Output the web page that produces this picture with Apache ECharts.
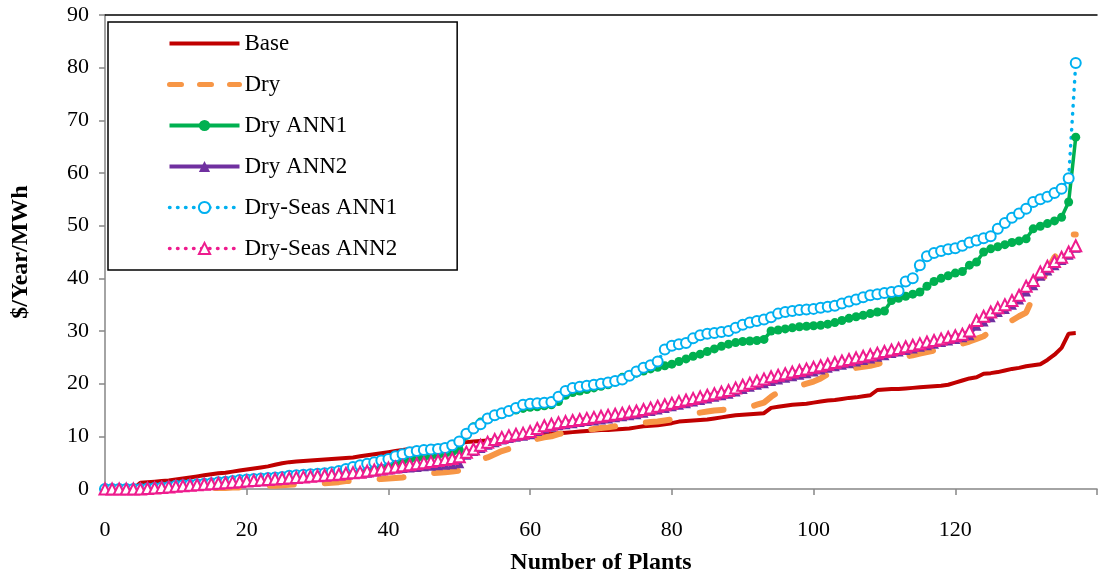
<!DOCTYPE html>
<html>
<head>
<meta charset="utf-8">
<script src="https://cdn.jsdelivr.net/npm/echarts@6/dist/echarts.min.js"></script>
<style>html,body{margin:0;padding:0;background:#fff}#c{width:1100px;height:580px}</style>
</head>
<body>
<div id="c"></div>
<script>
// x = plant index 0..137
const plantCount = 138;
const xTicks = [0, 20, 40, 60, 80, 100, 120];
const yTicks = [0, 10, 20, 30, 40, 50, 60, 70, 80, 90];
const seriesNames = ['Base', 'Dry', 'Dry ANN1', 'Dry ANN2', 'Dry-Seas ANN1', 'Dry-Seas ANN2'];

const base = [
0,0,0,0,0,1.2,
1.3,1.4,1.5,1.6,1.8,
2.0,2.2,2.4,2.6,2.8,
3.0,3.1,3.3,3.5,3.7,
3.9,4.1,4.3,4.6,4.9,
5.1,5.2,5.3,5.4,5.5,
5.6,5.7,5.8,5.9,6.0,
6.2,6.4,6.6,6.8,7.0,
7.2,7.4,7.6,7.7,7.9,
8.0,8.1,8.3,8.5,8.7,
8.9,9.0,9.1,9.2,9.3,
9.5,9.7,9.8,10.0,10.1,
10.2,10.3,10.5,10.6,10.7,
10.8,10.9,11.0,11.1,11.2,
11.2,11.3,11.4,11.5,11.7,
11.9,12.0,12.1,12.3,12.5,
12.8,12.9,13.0,13.1,13.2,
13.4,13.6,13.8,14.0,14.1,
14.2,14.3,14.4,15.4,15.6,
15.8,16.0,16.1,16.2,16.4,
16.6,16.8,16.9,17.1,17.3,
17.4,17.6,17.8,18.8,18.9,
19.0,19.0,19.1,19.2,19.3,
19.4,19.5,19.6,19.8,20.2,
20.6,21.0,21.2,21.9,22.0,
22.2,22.5,22.8,23.0,23.3,
23.5,23.7,24.5,25.5,26.8,
29.5,29.6];

const dry = [
0,0,0,0,0,0,
0,0,0,0,0,
0,0,0.1,0.1,0.2,
0.2,0.2,0.3,0.3,0.4,
0.5,0.5,0.6,0.6,0.7,
0.8,0.9,1.0,1.0,1.1,
1.1,1.2,1.3,1.5,1.6,
1.7,1.8,1.8,1.9,2.0,
2.1,2.2,2.4,2.6,2.9,
3.0,3.1,3.2,3.3,3.5,
4.3,5.2,5.6,6.0,6.6,
7.2,7.6,8.3,8.8,9.1,
9.5,9.8,10.0,10.4,10.8,
11.0,11.1,11.2,11.4,11.6,
11.7,11.9,12.1,12.3,12.5,
12.6,12.7,12.8,13.0,13.2,
13.7,14.1,14.3,14.5,14.7,
14.9,15.0,15.1,15.2,15.3,
15.6,16.0,16.4,17.5,18.4,
18.8,19.2,19.6,20.0,20.4,
21.0,21.8,22.3,22.6,22.8,
23.0,23.2,23.4,23.7,24.2,
24.5,24.8,25.1,25.4,25.7,
26.0,26.3,26.6,26.9,27.2,
27.6,28.0,28.5,29.0,30.0,
31.0,31.4,32.0,32.8,33.5,
36.5,39.0,41.5,44.0,45.5,
48.3,48.3];

const dryAnn1 = [
0,0,0,0,0,0,
0.1,0.2,0.3,0.4,0.5,
0.6,0.7,0.8,0.9,1.0,
1.1,1.2,1.3,1.4,1.5,
1.6,1.7,1.8,1.9,2.0,
2.1,2.2,2.3,2.4,2.5,
2.6,2.8,3.0,3.2,3.4,
3.6,3.8,4.0,4.3,4.6,
5.0,5.3,5.6,5.8,6.0,
6.2,6.4,6.7,7.0,7.4,
10.2,11.8,12.7,13.4,13.9,
14.3,14.7,15.0,15.3,15.5,
15.6,15.8,16.0,16.6,17.8,
18.3,18.6,18.9,19.2,19.5,
19.8,20.3,21.2,21.6,22.0,
22.4,22.8,23.1,23.4,23.7,
24.2,24.7,25.2,25.6,26.1,
26.6,27.1,27.5,27.8,28.0,
28.1,28.2,28.4,30.0,30.2,
30.4,30.6,30.8,30.9,31.0,
31.1,31.3,31.6,32.0,32.4,
32.7,33.0,33.3,33.6,33.8,
35.8,36.2,36.6,37.0,37.4,
38.5,39.4,40.0,40.5,41.0,
41.3,42.5,43.1,45.0,45.6,
46.0,46.4,46.8,47.1,47.5,
49.4,49.9,50.4,50.9,51.6,
54.5,66.8];

const dryAnn2 = [
0,0,0,0,0,0,
0.1,0.15,0.2,0.3,0.4,
0.5,0.6,0.7,0.8,0.9,
1.0,1.1,1.2,1.3,1.4,
1.5,1.6,1.7,1.8,1.9,
2.0,2.1,2.2,2.3,2.4,
2.5,2.6,2.7,2.8,2.9,
3.0,3.1,3.3,3.5,3.7,
3.9,4.0,4.1,4.2,4.3,
4.4,4.5,4.6,4.7,4.9,
6.5,7.2,7.8,8.4,8.9,
9.4,9.7,9.9,10.1,10.4,
11.0,11.5,11.8,12.1,12.3,
12.5,12.7,12.9,13.0,13.2,
13.4,13.6,13.8,14.0,14.2,
14.5,14.8,15.1,15.4,15.7,
16.0,16.3,16.6,16.9,17.2,
17.5,17.8,18.1,18.5,19.0,
19.4,19.8,20.1,20.5,20.8,
21.1,21.4,21.7,22.0,22.3,
22.7,23.0,23.3,23.6,23.9,
24.2,24.5,24.8,25.1,25.4,
25.8,26.1,26.4,26.7,27.0,
27.3,27.6,27.9,28.2,28.5,
28.8,29.2,31.0,31.8,32.6,
33.6,34.2,35.0,36.0,37.5,
38.7,40.5,41.5,42.5,43.5,
44.5,45.8];

const drySeasAnn1 = [
0,0,0,0,0,0,
0.1,0.2,0.3,0.4,0.6,
0.7,0.8,0.9,1.0,1.1,
1.3,1.4,1.5,1.7,1.8,
1.9,2.0,2.1,2.2,2.3,
2.5,2.6,2.7,2.8,2.9,
3.0,3.2,3.4,3.8,4.2,
4.5,4.8,5.1,5.4,5.7,
6.2,6.6,7.0,7.2,7.4,
7.5,7.6,7.8,8.3,9.0,
10.5,11.5,12.3,13.4,14.0,
14.4,14.8,15.4,16.0,16.2,
16.3,16.4,16.5,17.5,18.6,
19.2,19.4,19.6,19.8,20.0,
20.2,20.5,20.8,21.5,22.3,
23.0,23.5,24.2,26.5,27.2,
27.5,27.7,28.6,29.2,29.5,
29.6,29.8,30.0,30.6,31.2,
31.6,31.9,32.2,32.6,33.3,
33.6,33.8,34.0,34.1,34.2,
34.4,34.6,34.8,35.2,35.6,
36.0,36.4,36.8,37.0,37.2,
37.4,37.6,39.4,40.0,42.5,
44.2,44.8,45.2,45.5,45.7,
46.2,46.8,47.2,47.6,48.0,
49.4,50.5,51.5,52.3,53.2,
54.5,55.0,55.5,56.2,57.0,
59.0,80.9];

const drySeasAnn2 = [
0,0,0,0,0,0,
0.1,0.2,0.3,0.4,0.5,
0.6,0.7,0.8,0.9,1.0,
1.1,1.2,1.3,1.4,1.5,
1.6,1.7,1.8,1.9,2.0,
2.1,2.2,2.3,2.4,2.5,
2.6,2.7,2.8,3.0,3.1,
3.2,3.4,3.6,3.8,4.0,
4.2,4.4,4.6,4.8,5.0,
5.2,5.4,5.6,5.8,6.1,
7.0,7.6,8.3,8.9,9.4,
9.8,10.1,10.4,10.6,10.9,
11.5,12.0,12.3,12.6,12.8,
13.0,13.2,13.4,13.6,13.8,
14.0,14.2,14.4,14.6,14.8,
15.1,15.4,15.7,16.0,16.3,
16.6,16.9,17.2,17.5,17.8,
18.1,18.4,18.7,19.2,19.7,
20.1,20.5,20.9,21.3,21.6,
21.9,22.2,22.5,22.8,23.1,
23.4,23.7,24.0,24.3,24.6,
24.9,25.2,25.5,25.8,26.1,
26.4,26.7,27.0,27.3,27.6,
27.9,28.2,28.5,28.8,29.1,
29.4,30.0,32.0,32.8,33.6,
34.4,35.0,35.8,36.8,38.5,
39.6,41.2,42.3,43.2,44.0,
45.0,46.2];

const plants = Array.from({length: plantCount}, (_, i) => i);
const pairs = arr => plants.map((x, i) => [x, arr[i]]);

const FONT = 'Liberation Serif';
const GRAY = '#868686';

const chart = echarts.init(document.getElementById('c'), null, {renderer: 'canvas'});
chart.setOption({
  animation: false,
  backgroundColor: '#fff',
  grid: {left: 105, top: 15, width: 1013, height: 477, containLabel: false},
  legend: {
    orient: 'vertical', left: 108, top: 22,
    padding: [10, 60, 10, 59], itemGap: 18, itemWidth: 70, itemHeight: 14,
    backgroundColor: '#fff', borderColor: '#000', borderWidth: 1.5, z: 10,
    textStyle: {fontFamily: FONT, fontSize: 23, color: '#000', lineHeight: 20},
    data: [
      {name: seriesNames[0], itemStyle: {opacity: 0}, lineStyle: {width: 4}},
      {name: seriesNames[1], itemStyle: {opacity: 0}, lineStyle: {width: 5, type: [12, 18], cap: 'round'}},
      {name: seriesNames[2], lineStyle: {width: 4}},
      {name: seriesNames[3], lineStyle: {width: 4}},
      {name: seriesNames[4], lineStyle: {width: 3.5, type: [0.5, 7.5], cap: 'round'}},
      {name: seriesNames[5], lineStyle: {width: 3.5, type: [0.5, 7.5], cap: 'round'}}
    ]
  },
  xAxis: [{
    type: 'value', min: 0, max: 140, interval: 20,
    axisLine: {onZero: false, lineStyle: {color: GRAY, width: 1.5}},
    axisTick: {show: true, length: 6, lineStyle: {color: GRAY, width: 1.5}},
    axisLabel: {margin: 30, fontSize: 22, fontFamily: FONT, color: '#000',
      formatter: v => xTicks.includes(v) ? String(v) : ''},
    splitLine: {show: false},
    name: 'Number of Plants', nameLocation: 'middle', nameGap: 62,
    nameTextStyle: {fontWeight: 'bold', fontSize: 24, fontFamily: FONT, color: '#000'}
  }, {
    type: 'value', position: 'top', min: 0, max: 140,
    axisLine: {show: true, onZero: false, lineStyle: {color: '#000', width: 1.5}},
    axisTick: {show: false}, axisLabel: {show: false}, splitLine: {show: false}
  }],
  yAxis: {
    type: 'value', min: 0, max: 90, interval: 10,
    axisLine: {show: true, onZero: false, lineStyle: {color: GRAY, width: 1.5}},
    axisTick: {show: true, length: 6, lineStyle: {color: GRAY, width: 1.5}},
    axisLabel: {margin: 16, fontSize: 22, fontFamily: FONT, color: '#000',
      formatter: v => yTicks.includes(v) ? String(v) : ''},
    splitLine: {show: false},
    name: '$/Year/MWh', nameLocation: 'middle', nameGap: 72,
    nameTextStyle: {fontWeight: 'bold', fontSize: 24, fontFamily: FONT, color: '#000'}
  },
  series: [
    {name: seriesNames[0], type: 'line', data: pairs(base), symbol: 'none',
     color: '#C00000', lineStyle: {color: '#C00000', width: 4}},
    {name: seriesNames[1], type: 'line', data: pairs(dry), symbol: 'none',
     color: '#F79646', lineStyle: {color: '#F79646', width: 6, type: [24, 31], cap: 'round'}},
    {name: seriesNames[2], type: 'line', data: pairs(dryAnn1), symbol: 'circle', symbolSize: 9,
     color: '#00B050', itemStyle: {color: '#00B050'}, lineStyle: {color: '#00B050', width: 3.5}},
    {name: seriesNames[3], type: 'line', data: pairs(dryAnn2), symbol: 'triangle', symbolSize: 10,
     color: '#7030A0', itemStyle: {color: '#7030A0'}, lineStyle: {color: '#7030A0', width: 3.5}},
    {name: seriesNames[4], type: 'line', data: pairs(drySeasAnn1), symbol: 'emptyCircle', symbolSize: 10,
     color: '#00B0F0', itemStyle: {color: '#00B0F0', borderWidth: 2},
     lineStyle: {color: '#00B0F0', width: 3.5, type: [0.5, 7.5], cap: 'round'}},
    {name: seriesNames[5], type: 'line', data: pairs(drySeasAnn2), symbol: 'emptyTriangle', symbolSize: 11,
     color: '#EE1C8E', itemStyle: {color: '#EE1C8E', borderWidth: 2},
     lineStyle: {color: '#EE1C8E', width: 3.5, type: [0.5, 7.5], cap: 'round'}}
  ]
});
</script>
</body>
</html>
